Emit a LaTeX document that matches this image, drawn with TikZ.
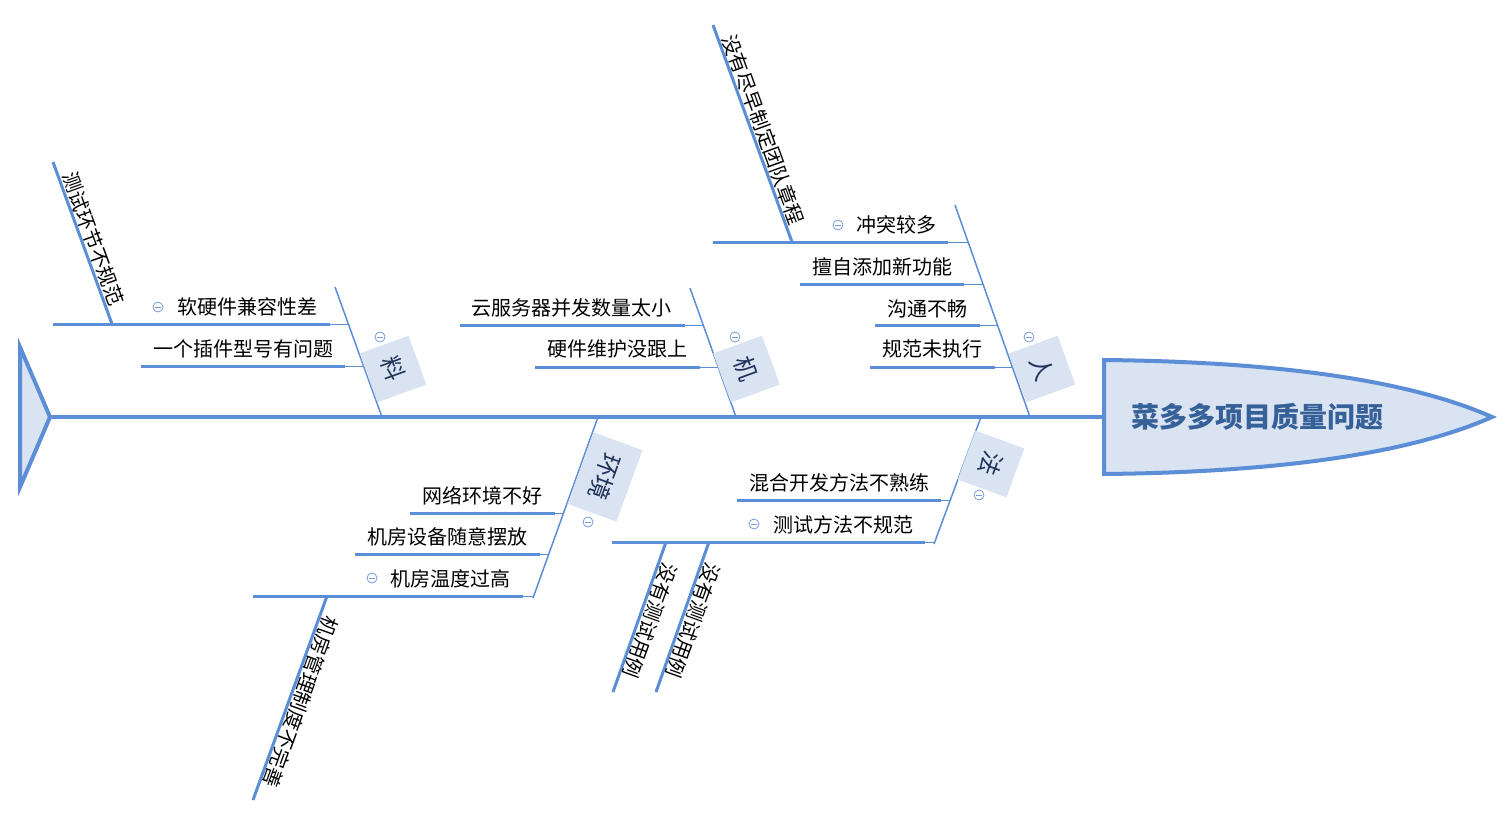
\documentclass[tikz,border=0pt]{standalone}
\usepackage{fontspec}
\setmainfont{Noto Sans CJK SC}
\definecolor{blueline}{RGB}{91,142,214}
\definecolor{boxfill}{RGB}{218,227,241}
\definecolor{titlec}{RGB}{53,96,152}
\definecolor{catc}{RGB}{30,50,90}
\definecolor{iconc}{RGB}{120,155,215}
\tikzset{
  spine/.style={draw=blueline,line width=4pt},
  bone/.style={draw=blueline,line width=1.5pt},
  subthick/.style={draw=blueline,line width=3pt},
  subthin/.style={draw=blueline,line width=1pt},
  lbl/.style={inner sep=0pt,anchor=east,font=\fontsize{20}{22}\selectfont,text=black},
  vlbl/.style={inner sep=2pt,anchor=south,font=\fontsize{20}{22}\selectfont,text=black},
  catbox/.style={fill=boxfill,inner sep=14pt,minimum width=52pt,minimum height=52pt,font=\fontsize{24}{26}\selectfont,text=catc},
  icon/.style={circle,draw=iconc,line width=0.8pt,minimum size=10pt,inner sep=0pt,
    path picture={\draw[iconc,line width=0.8pt] ([xshift=-2.8pt]path picture bounding box.center) -- ([xshift=2.8pt]path picture bounding box.center);}},
}
\begin{document}
\begin{tikzpicture}[x=1pt,y=-1pt]
\useasboundingbox (0,0) rectangle (1510,825);
% tail and spine
\draw[draw=blueline,fill=boxfill,line width=4pt] (20,347) -- (50,417) -- (20,487) -- cycle;
\coordinate (tail) at (50,417);
\coordinate (headL) at (1104,417);
\draw[spine] (tail) -- (headL);
% head
\draw[draw=blueline,fill=boxfill,line width=4pt] (1104,360) .. controls (1300,362) and (1420,385) .. (1492,417) .. controls (1420,449) and (1300,472) .. (1104,474) -- cycle;
\node[font=\fontsize{28}{30}\selectfont\bfseries,text=titlec] (title) at (1257,417) {菜多多项目质量问题};

% ---------- category bones ----------
\coordinate (liaoB) at (382,417); \coordinate (liaoT) at (335,287);
\coordinate (jiB) at (736,417);   \coordinate (jiT) at (690,288);
\coordinate (renB) at (1030,417); \coordinate (renT) at (955,205);
\coordinate (hjB) at (598,417);   \coordinate (hjT) at (533,598);
\coordinate (faB) at (981,417);   \coordinate (faT) at (934,544);
\draw[bone] (liaoB) -- (liaoT);
\draw[bone] (jiB) -- (jiT);
\draw[bone] (renB) -- (renT);
\draw[bone] (hjB) -- (hjT);
\draw[bone] (faB) -- (faT);

\node[catbox,rotate=-70] (liao) at (393,369) {料};
\node[catbox,rotate=-70] (ji) at (746.5,369) {机};
\node[catbox,rotate=-70] (ren) at (1042,369) {人};
\node[catbox,rotate=-110] (hj) at (605,477) {环境};
\node[catbox,rotate=-110] (fa) at (991,464) {法};

\node[icon] (icLiao) at (380,337) {};
\node[icon] (icJi) at (735,337) {};
\node[icon] (icRen) at (1029,337) {};
\node[icon] (icHj) at (588,522) {};
\node[icon] (icFa) at (979,495) {};

% ---------- 料 ----------
\coordinate (l1a) at (53,324); \coordinate (l1b) at (330,324); \coordinate (l1c) at (348,324);
\draw[subthick] (l1a) -- (l1b); \draw[subthin] (l1b) -- (l1c);
\node[lbl] (l1t) at (318,307) {软硬件兼容性差};
\node[icon] (icL1) at (158,307) {};
\coordinate (l2a) at (141,366); \coordinate (l2b) at (345,366); \coordinate (l2c) at (363,366);
\draw[subthick] (l2a) -- (l2b); \draw[subthin] (l2b) -- (l2c);
\node[lbl] (l2t) at (334,349) {一个插件型号有问题};
\coordinate (l1sA) at (112,324); \coordinate (l1sB) at (53,162);
\draw[subthick] (l1sA) -- (l1sB);
\path (l1sB) -- (l1sA) node[midway,vlbl,rotate=-70] (l1s) {测试环节不规范};

% ---------- 机 ----------
\coordinate (j1a) at (460,325); \coordinate (j1b) at (685,325); \coordinate (j1c) at (703,325);
\draw[subthick] (j1a) -- (j1b); \draw[subthin] (j1b) -- (j1c);
\node[lbl] (j1t) at (672,308) {云服务器并发数量太小};
\coordinate (j2a) at (535,367); \coordinate (j2b) at (700,367); \coordinate (j2c) at (718,367);
\draw[subthick] (j2a) -- (j2b); \draw[subthin] (j2b) -- (j2c);
\node[lbl] (j2t) at (688,349) {硬件维护没跟上};

% ---------- 人 ----------
\coordinate (r1a) at (713,242); \coordinate (r1b) at (948,242); \coordinate (r1c) at (968,242);
\draw[subthick] (r1a) -- (r1b); \draw[subthin] (r1b) -- (r1c);
\node[lbl] (r1t) at (937,225) {冲突较多};
\node[icon] (icR1) at (838,225) {};
\coordinate (r2a) at (800,284); \coordinate (r2b) at (964,284); \coordinate (r2c) at (983,284);
\draw[subthick] (r2a) -- (r2b); \draw[subthin] (r2b) -- (r2c);
\node[lbl] (r2t) at (953,267) {擅自添加新功能};
\coordinate (r3a) at (875,325); \coordinate (r3b) at (980,325); \coordinate (r3c) at (998,325);
\draw[subthick] (r3a) -- (r3b); \draw[subthin] (r3b) -- (r3c);
\node[lbl] (r3t) at (968,309) {沟通不畅};
\coordinate (r4a) at (870,367); \coordinate (r4b) at (995,367); \coordinate (r4c) at (1013,367);
\draw[subthick] (r4a) -- (r4b); \draw[subthin] (r4b) -- (r4c);
\node[lbl] (r4t) at (983,349) {规范未执行};
\coordinate (r1sA) at (792,242); \coordinate (r1sB) at (713,25);
\draw[subthick] (r1sA) -- (r1sB);
\path (r1sB) -- (r1sA) node[midway,vlbl,rotate=-70] (r1s) {没有尽早制定团队章程};

% ---------- 环境 ----------
\coordinate (h1a) at (410,513); \coordinate (h1b) at (555,513); \coordinate (h1c) at (564,513);
\draw[subthick] (h1a) -- (h1b); \draw[subthin] (h1b) -- (h1c);
\node[lbl] (h1t) at (543,496) {网络环境不好};
\coordinate (h2a) at (355,554); \coordinate (h2b) at (540,554); \coordinate (h2c) at (549,554);
\draw[subthick] (h2a) -- (h2b); \draw[subthin] (h2b) -- (h2c);
\node[lbl] (h2t) at (528,537) {机房设备随意摆放};
\coordinate (h3a) at (253,596); \coordinate (h3b) at (523,596); \coordinate (h3c) at (534,596);
\draw[subthick] (h3a) -- (h3b); \draw[subthin] (h3b) -- (h3c);
\node[lbl] (h3t) at (511,579) {机房温度过高};
\node[icon] (icH3) at (372,578) {};
\coordinate (h3sA) at (327,596); \coordinate (h3sB) at (253,800);
\draw[subthick] (h3sA) -- (h3sB);
\path (h3sA) -- (h3sB) node[midway,vlbl,rotate=-110] (h3s) {机房管理制度不完善};

% ---------- 法 ----------
\coordinate (f1a) at (737,500); \coordinate (f1b) at (941,500); \coordinate (f1c) at (950,500);
\draw[subthick] (f1a) -- (f1b); \draw[subthin] (f1b) -- (f1c);
\node[lbl] (f1t) at (930,483) {混合开发方法不熟练};
\coordinate (f2a) at (612,542); \coordinate (f2b) at (925,542); \coordinate (f2c) at (935,542);
\draw[subthick] (f2a) -- (f2b); \draw[subthin] (f2b) -- (f2c);
\node[lbl] (f2t) at (914,525) {测试方法不规范};
\node[icon] (icF2) at (754,524) {};
\coordinate (f2sA) at (666,542); \coordinate (f2sB) at (613,692);
\draw[subthick] (f2sA) -- (f2sB);
\path (f2sA) -- (f2sB) node[midway,vlbl,rotate=-110] (f2s) {没有测试用例};
\coordinate (f3sA) at (709,542); \coordinate (f3sB) at (656,692);
\draw[subthick] (f3sA) -- (f3sB);
\path (f3sA) -- (f3sB) node[midway,vlbl,rotate=-110] (f3s) {没有测试用例};
\end{tikzpicture}
\end{document}
